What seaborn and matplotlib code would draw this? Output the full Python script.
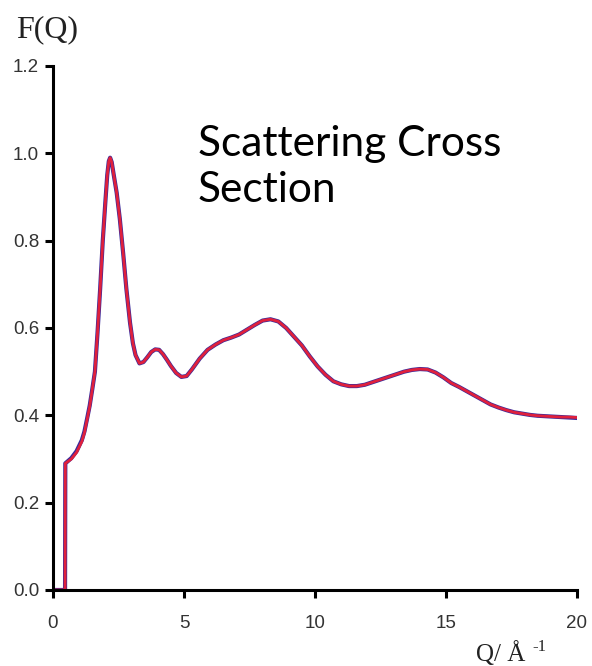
import matplotlib
matplotlib.use("Agg")
import matplotlib.pyplot as plt
import seaborn as sns
import pandas as pd

# Data
q_values = [0, 0.46, 0.47, 0.7, 0.9, 1.1, 1.2, 1.3, 1.4, 1.5, 1.6, 1.7, 1.8, 1.9, 2.0,
            2.07, 2.13, 2.18, 2.24, 2.32, 2.43, 2.55, 2.68, 2.8, 2.94, 3.05, 3.15,
            3.3, 3.45, 3.6, 3.75, 3.9, 4.05, 4.2, 4.35, 4.5, 4.7,
            4.9, 5.1, 5.3, 5.6, 5.9, 6.2, 6.5, 6.8, 7.1, 7.4, 7.7, 8.0, 8.3, 8.6, 8.9,
            9.2, 9.5, 9.8, 10.1, 10.4, 10.7, 11.0, 11.3, 11.6, 11.9, 12.2, 12.5, 12.8,
            13.1, 13.4, 13.7, 14.0, 14.3, 14.6, 14.9, 15.2, 15.5, 15.8, 16.1, 16.4,
            16.7, 17.0, 17.3, 17.6, 17.9, 18.2, 18.5, 18.8, 19.1, 19.4, 19.7, 20.0]
f_measured = [0, 0, 0.29, 0.30, 0.315, 0.34, 0.36, 0.39, 0.42, 0.46, 0.50, 0.59, 0.69,
              0.80, 0.89, 0.95, 0.982, 0.99, 0.98, 0.95, 0.91, 0.85, 0.77, 0.69, 0.612,
              0.565, 0.538, 0.519, 0.522, 0.533, 0.545, 0.551, 0.55, 0.54, 0.527,
              0.513, 0.497, 0.488, 0.49, 0.505, 0.53, 0.55, 0.562, 0.572,
              0.578, 0.585, 0.596, 0.607, 0.617, 0.620, 0.615, 0.60, 0.58, 0.56, 0.535,
              0.512, 0.493, 0.478, 0.471, 0.467, 0.467, 0.470, 0.476, 0.482, 0.488,
              0.494, 0.500, 0.504, 0.506, 0.505, 0.498, 0.487, 0.474, 0.465, 0.455,
              0.445, 0.435, 0.425, 0.418, 0.412, 0.407, 0.404, 0.401, 0.399, 0.398,
              0.397, 0.396, 0.396, 0.395]
f_model = [0, 0, 0.29, 0.302, 0.318, 0.343, 0.363, 0.392, 0.422, 0.46, 0.50, 0.59, 0.69,
           0.80, 0.89, 0.95, 0.982, 0.99, 0.98, 0.95, 0.91, 0.85, 0.77, 0.69, 0.612,
           0.565, 0.538, 0.519, 0.522, 0.533, 0.545, 0.551, 0.55, 0.54, 0.527,
           0.513, 0.497, 0.488, 0.49, 0.505, 0.53, 0.55, 0.562, 0.572,
           0.578, 0.585, 0.596, 0.607, 0.617, 0.620, 0.615, 0.60, 0.58, 0.56, 0.535,
           0.512, 0.493, 0.478, 0.471, 0.467, 0.467, 0.470, 0.476, 0.482, 0.488,
           0.494, 0.500, 0.504, 0.506, 0.505, 0.498, 0.487, 0.474, 0.465, 0.455,
           0.445, 0.435, 0.425, 0.418, 0.412, 0.407, 0.404, 0.401, 0.399, 0.398,
           0.397, 0.396, 0.395, 0.394]
x_ticks = [0, 5, 10, 15, 20]
y_ticks = [0.0, 0.2, 0.4, 0.6, 0.8, 1.0, 1.2]
y_tick_labels = ["0.0", "0.2", "0.4", "0.6", "0.8", "1.0", "1.2"]

sns.set_style("ticks")
plt.rcParams["font.family"] = ["Liberation Sans", "DejaVu Sans"]

fig = plt.figure(figsize=(5.92, 6.66), dpi=100)
ax = fig.add_axes([53 / 592, 76 / 666, 524 / 592, 524 / 666])

df = pd.DataFrame({"Q": q_values, "meas": f_measured, "model": f_model})
sns.lineplot(data=df, x="Q", y="model", ax=ax, color="#3a2a9a", lw=3.0,
             estimator=None, sort=False)
sns.lineplot(data=df, x="Q", y="meas", ax=ax, color="#e0203c", lw=2.0,
             estimator=None, sort=False)

ax.set_xlim(0, 20)
ax.set_ylim(0, 1.2)
ax.set_xticks(x_ticks)
ax.set_xticklabels([str(t) for t in x_ticks])
ax.set_yticks(y_ticks)
ax.set_yticklabels(y_tick_labels)
ax.set_xlabel("")
ax.set_ylabel("")
for s in ["top", "right"]:
    ax.spines[s].set_visible(False)
for s in ["left", "bottom"]:
    ax.spines[s].set_linewidth(2.2)
    ax.spines[s].set_color("black")
ax.tick_params(axis="both", direction="out", length=6, width=2.2, colors="black",
               labelsize=13.5, labelcolor="#333333")
ax.tick_params(axis="x", pad=12)
ax.tick_params(axis="y", pad=4)

serif = ["Liberation Serif", "DejaVu Serif"]
fig.text(16 / 592, 1 - 37 / 666, "F(Q)", family=serif,
         fontsize=23, ha="left", va="baseline", color="#222222")
fig.text(476 / 592, 1 - 661 / 666, "Q/ Å", family=serif,
         fontsize=18, ha="left", va="baseline", color="#222222")
fig.text(532 / 592, 1 - 651 / 666, "-1", family=serif,
         fontsize=12, ha="left", va="baseline", color="#222222")

fig.text(198 / 592, 1 - 156 / 666, "Scattering Cross",
         family=["Lato", "DejaVu Sans"], fontsize=30.5, ha="left", va="baseline",
         color="black")
fig.text(198 / 592, 1 - 202 / 666, "Section",
         family=["Lato", "DejaVu Sans"], fontsize=30.5, ha="left", va="baseline",
         color="black")

fig.savefig("out.png", dpi=100)
